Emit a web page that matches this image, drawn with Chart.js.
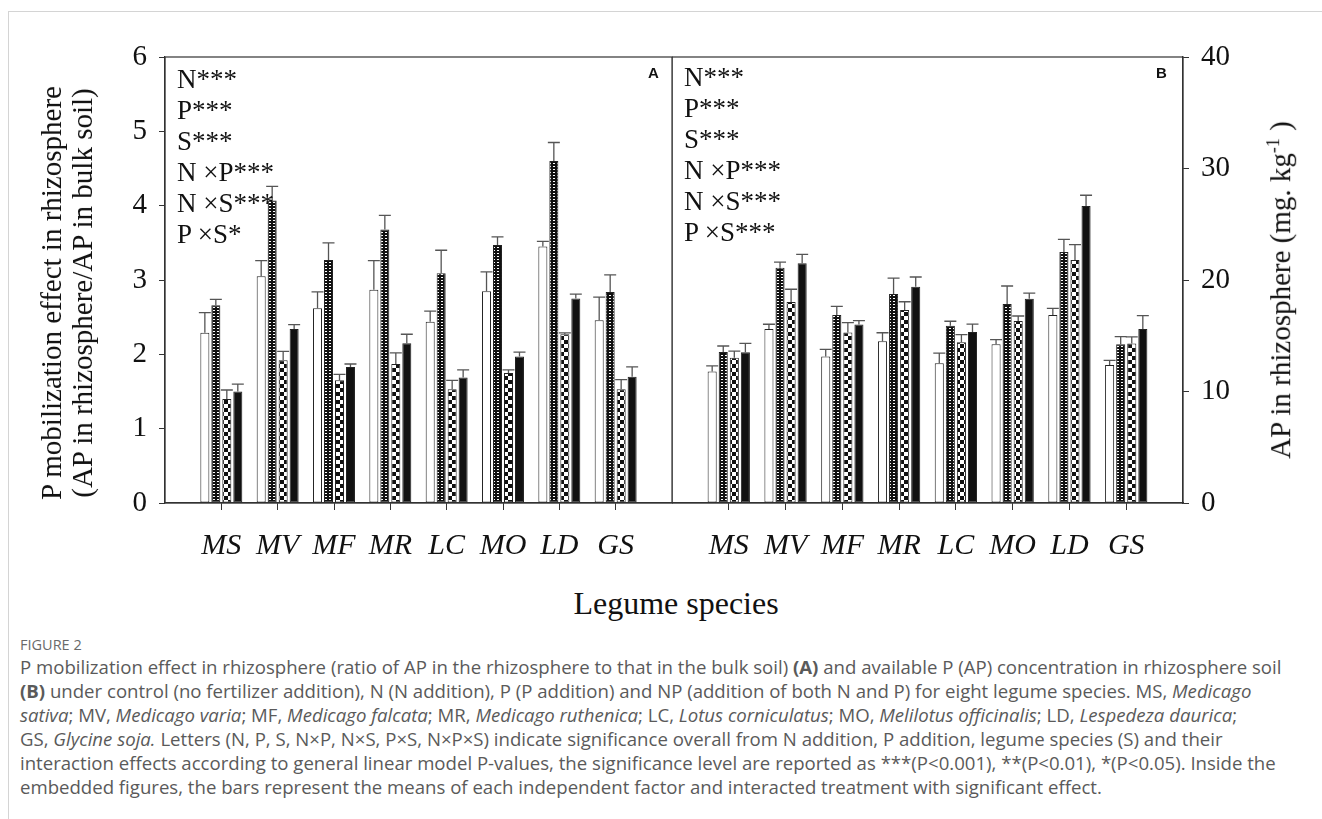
<!DOCTYPE html>
<html><head><meta charset="utf-8">
<script src="https://cdn.jsdelivr.net/npm/chart.js@4.4.1/dist/chart.umd.min.js"></script>
<style>
html,body{margin:0;padding:0;background:#fff}
body{width:1322px;height:819px;position:relative;overflow:hidden;font-family:"Liberation Serif","Times New Roman",serif;color:#111}
.card{position:absolute;left:8px;top:11px;width:1320px;height:820px;border-top:1px solid #d4d4d4;border-left:1px solid #d4d4d4}
canvas{position:absolute;top:0}
.t{position:absolute;white-space:nowrap}
.rot{transform:translate(-50%,-50%) rotate(-90deg);text-align:center}
.ann{font-size:27px;line-height:31px}
.lab{font-family:"Liberation Sans",Arial,sans-serif;font-weight:bold;font-size:15px}
.cap{font-family:"Open Sans",sans-serif;color:#5a5a5a;font-size:18.6px;line-height:24px;left:20px}
.cap i{font-style:italic}
</style></head><body>
<div class="card"></div>
<canvas id="cA" width="680" height="580" style="left:0;width:680px;height:580px"></canvas>
<canvas id="cB" width="650" height="580" style="left:672px;width:650px;height:580px"></canvas>

<div class="t rot" style="left:67px;top:293px;font-size:29px;line-height:31px">P mobilization effect in rhizosphere<br>(AP in rhizosphere/AP in bulk soil)</div>
<div class="t rot" style="left:1280px;top:290px;font-size:29px">AP in rhizosphere (mg. kg<sup style="font-size:18px">-1</sup> )</div>

<div class="t ann" style="left:177px;top:64px">N***<br>P***<br>S***<br>N ×P***<br>N ×S***<br>P ×S*</div>
<div class="t ann" style="left:684px;top:62px">N***<br>P***<br>S***<br>N ×P***<br>N ×S***<br>P ×S***</div>
<div class="t lab" style="left:648px;top:64px">A</div>
<div class="t lab" style="left:1156px;top:64px">B</div>

<div class="t" style="left:676px;top:603px;transform:translate(-50%,-50%);font-size:32px">Legume species</div>

<div class="t cap" style="top:633px;font-size:14.5px;color:#6a6a6a">FIGURE 2</div>
<div class="t cap" style="top:655px">P mobilization effect in rhizosphere (ratio of AP in the rhizosphere to that in the bulk soil) <b>(A)</b> and available P (AP) concentration in rhizosphere soil<br>
<b>(B)</b> under control (no fertilizer addition), N (N addition), P (P addition) and NP (addition of both N and P) for eight legume species. MS, <i>Medicago</i><br>
<i>sativa</i>; MV, <i>Medicago varia</i>; MF, <i>Medicago falcata</i>; MR, <i>Medicago ruthenica</i>; LC, <i>Lotus corniculatus</i>; MO, <i>Melilotus officinalis</i>; LD, <i>Lespedeza daurica</i>;<br>
GS, <i>Glycine soja.</i> Letters (N, P, S, N×P, N×S, P×S, N×P×S) indicate significance overall from N addition, P addition, legume species (S) and their<br>
interaction effects according to general linear model P-values, the significance level are reported as ***(P&lt;0.001), **(P&lt;0.01), *(P&lt;0.05). Inside the<br>
embedded figures, the bars represent the means of each independent factor and interacted treatment with significant effect.</div>

<script>
// ---- data ----
const categories = ['MS','MV','MF','MR','LC','MO','LD','GS'];

// Panel A: P mobilization effect (ratio)
const ratioControl = [2.29, 3.05, 2.62, 2.87, 2.44, 2.85, 3.45, 2.46];
const ratioN       = [2.66, 4.07, 3.27, 3.68, 3.09, 3.47, 4.60, 2.84];
const ratioP       = [1.40, 1.92, 1.65, 1.87, 1.53, 1.75, 2.27, 1.53];
const ratioNP      = [1.50, 2.34, 1.83, 2.15, 1.69, 1.97, 2.75, 1.70];
const ratioControlSE = [0.27, 0.21, 0.22, 0.39, 0.14, 0.26, 0.07, 0.31];
const ratioNSE       = [0.08, 0.19, 0.23, 0.19, 0.31, 0.11, 0.25, 0.23];
const ratioPSE       = [0.12, 0.12, 0.08, 0.15, 0.12, 0.04, 0.02, 0.13];
const ratioNPSE      = [0.10, 0.06, 0.04, 0.12, 0.10, 0.06, 0.06, 0.13];

// Panel B: AP in rhizosphere (mg kg-1)
const apControl = [11.8, 15.6, 13.15, 14.5, 12.53, 14.23, 16.86, 12.38];
const apN       = [13.54, 21.1, 16.86, 18.74, 15.9, 17.85, 22.51, 14.23];
const apP       = [13.03, 18.03, 15.3, 17.3, 14.41, 16.32, 21.79, 14.3];
const apNP      = [13.51, 21.5, 16.02, 19.4, 15.34, 18.32, 26.64, 15.6];
const apControlSE = [0.5, 0.43, 0.63, 0.77, 0.92, 0.42, 0.6, 0.42];
const apNSE       = [0.54, 0.5, 0.78, 1.42, 0.4, 1.61, 1.14, 0.69];
const apPSE       = [0.6, 1.14, 0.87, 0.75, 0.69, 0.45, 1.38, 0.6];
const apNPSE      = [0.81, 0.8, 0.33, 0.87, 0.71, 0.51, 0.96, 1.2];

const ticksA = [0,1,2,3,4,5,6];
const ticksB = [0,10,20,30,40];

// ---- styles ----
function makePattern(w,h,draw){const c=document.createElement('canvas');c.width=w;c.height=h;const g=c.getContext('2d');draw(g);return g.createPattern(c,'repeat');}
const patN = makePattern(4,3,g=>{g.fillStyle='#111';g.fillRect(0,0,4,3);g.fillStyle='#fff';g.fillRect(1,1,2,1);});
const patP = makePattern(8,8,g=>{g.fillStyle='#fff';g.fillRect(0,0,8,8);g.fillStyle='#111';g.fillRect(0,0,4,4);g.fillRect(4,4,4,4);});
const fills = ['#ffffff', patN, patP, '#111111'];
const AX = '#333';

const toXY = arr => arr.map((v,i)=>({x:i+1,y:v}));

const errorBars = {id:'errorBars', afterDatasetsDraw(chart){
  const ctx=chart.ctx, ys=chart.scales.y;
  chart.data.datasets.forEach((ds,di)=>{
    const meta=chart.getDatasetMeta(di);
    meta.data.forEach((el,i)=>{
      const yt=ys.getPixelForValue(ds.data[i].y+ds.err[i]);
      ctx.save();ctx.strokeStyle='#555';ctx.lineWidth=1.3;ctx.beginPath();
      ctx.moveTo(el.x,el.y);ctx.lineTo(el.x,yt);
      ctx.moveTo(el.x-6,yt);ctx.lineTo(el.x+6,yt);ctx.stroke();ctx.restore();
    });
  });
}};
const frame = {id:'frame', afterDraw(chart){
  const a=chart.chartArea, ctx=chart.ctx;
  ctx.save();ctx.strokeStyle=AX;ctx.lineWidth=1.2;
  ctx.strokeRect(a.left,a.top,a.right-a.left,a.bottom-a.top);ctx.restore();
}};

function build(id, series, errs, ymax, yticks, yPos, pad, yWidth){
  return new Chart(document.getElementById(id), {
    type:'bar',
    data:{datasets: series.map((s,k)=>({data:toXY(s), err:errs[k], backgroundColor:fills[k], borderColor:'#222', borderWidth:1, borderSkipped:false}))},
    options:{
      responsive:false, animation:false, devicePixelRatio:1,
      layout:{padding:pad},
      plugins:{legend:{display:false}, tooltip:{enabled:false}},
      datasets:{bar:{categoryPercentage:0.78, barPercentage:0.82}},
      scales:{
        x:{type:'linear', min:0, max:9, offset:false,
           afterBuildTicks:s=>{s.ticks=categories.map((c,i)=>({value:i+1}));},
           ticks:{callback:v=>categories[v-1]||'', autoSkip:false, maxRotation:0, padding:18, color:'#111',
                  font:{family:'Liberation Serif', size:30, style:'italic'}},
           grid:{drawOnChartArea:false, offset:false, tickLength:7, color:AX, lineWidth:1},
           border:{color:AX, width:1.2},
           afterFit:s=>{s.height=77;}},
        y:{position:yPos, min:0, max:ymax,
           afterBuildTicks:s=>{s.ticks=yticks.map(v=>({value:v}));},
           ticks:{padding:12, color:'#111', font:{family:'Liberation Serif', size:29}},
           grid:{drawOnChartArea:false, tickLength:6, color:AX},
           border:{color:AX, width:1.2},
           afterFit:s=>{s.width=yWidth;}}
      }
    },
    plugins:[frame, errorBars]
  });
}

build('cA', [ratioControl, ratioN, ratioP, ratioNP], [ratioControlSE, ratioNSE, ratioPSE, ratioNPSE], 6, ticksA, 'left', {top:57,left:0,right:8,bottom:0}, 165);
build('cB', [apControl, apN, apP, apNP], [apControlSE, apNSE, apPSE, apNPSE], 40, ticksB, 'right', {top:57,left:0,right:0,bottom:0}, 139);
</script>
</body></html>
